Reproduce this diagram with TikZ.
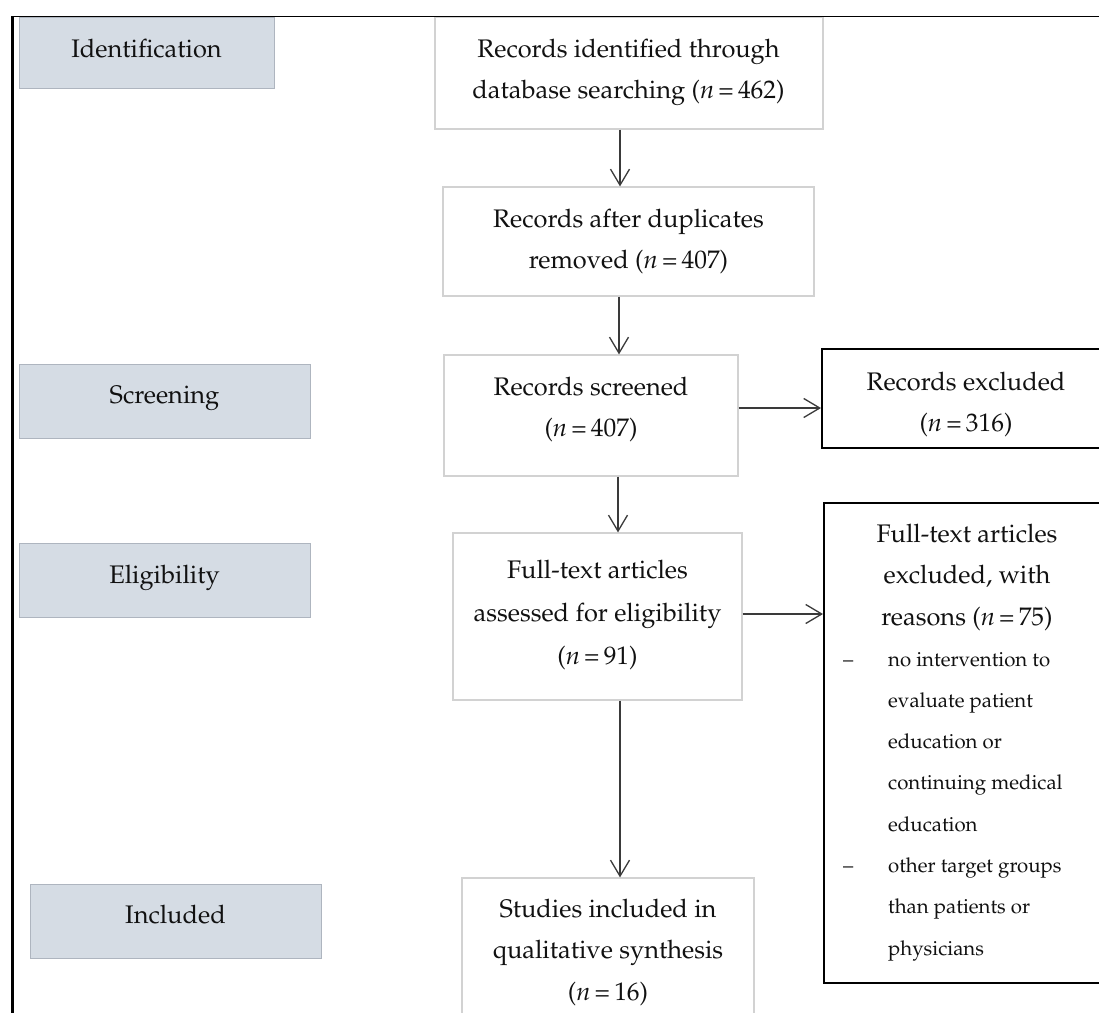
\documentclass[tikz,border=0pt]{standalone}
\usepackage[T1]{fontenc}
\usepackage{mathpazo}
\usetikzlibrary{arrows.meta}
\definecolor{phasefill}{HTML}{D5DCE4}
\definecolor{phaseedge}{HTML}{AEB5BF}
\definecolor{boxedge}{HTML}{D2D2D2}
\definecolor{arrowc}{HTML}{3A3A3A}
\definecolor{txt}{HTML}{111111}
\newcommand\mainfs{\fontsize{25.4}{41.6}\selectfont}
\newcommand\smallfs{\fontsize{20.4}{41.3}\selectfont}
\newcommand\nn[1]{(\textit{n}\,=\,#1)}
\setlength{\tabcolsep}{0pt}
\begin{document}
\begin{tikzpicture}[x=1pt,y=-1pt,
  phase/.style={draw=phaseedge, fill=phasefill, line width=1pt, inner sep=0pt},
  flowbox/.style={draw=boxedge, line width=1.2pt, fill=white, inner sep=0pt},
  exbox/.style={draw=black, line width=2pt, fill=white, inner sep=0pt},
  lbl/.style={anchor=base, inner sep=0pt, text=txt},
  arr/.style={draw=arrowc, line width=1.3pt, -{Straight Barb[length=16pt,width=19pt]}}]
\useasboundingbox (0,0) rectangle (1099,1012);
\clip (0,0) rectangle (1099,1012);
\fill[white] (0,0) rectangle (1099,1012);

% phase boxes
\node[phase, minimum width=255, minimum height=71] (pid)  at (146.5,52.5) {};
\node[phase, minimum width=291, minimum height=74] (pscr) at (164.5,401) {};
\node[phase, minimum width=291, minimum height=74] (pel)  at (164.5,580) {};
\node[phase, minimum width=291, minimum height=74] (pinc) at (175.5,921) {};

% flow boxes
\node[flowbox, minimum width=388, minimum height=112] (b1) at (629,73) {};
\node[flowbox, minimum width=371, minimum height=109] (b2) at (628.5,241.5) {};
\node[flowbox, minimum width=294, minimum height=121] (b3) at (591,415.5) {};
\node[flowbox, minimum width=289, minimum height=167] (b4) at (597.5,616.5) {};
\node[flowbox, minimum width=292, minimum height=162] (b5) at (608,959) {};

% exclusion boxes
\node[exbox, minimum width=290, minimum height=99]  (rex)  at (967,398.5) {};
\node[exbox, minimum width=286, minimum height=480] (ftex) at (967,743) {};

% phase labels
\node[lbl] (tid)  at (146.5,57)  {\mainfs Identification};
\node[lbl] (tscr) at (164.5,403) {\mainfs Screening};
\node[lbl] (tel)  at (164.5,583) {\mainfs Eligibility};
\node[lbl] (tinc) at (175.5,923) {\mainfs Included};

% flow texts
\node[lbl] (t1) at (628.5,57) {\mainfs\begin{tabular}[t]{c}Records identified through\\database searching \nn{462}\end{tabular}};
\node[lbl] (t2) at (628.5,227) {\mainfs\begin{tabular}[t]{c}Records after duplicates\\removed \nn{407}\end{tabular}};
\node[lbl] (t3) at (591,395) {\mainfs\begin{tabular}[t]{c}Records screened\\\nn{407}\end{tabular}};
\node[lbl] (t4) at (597.5,578) {\mainfs\fontsize{25.4}{43}\selectfont\begin{tabular}[t]{c}Full-text articles\\assessed for eligibility\\\nn{91}\end{tabular}};
\node[lbl] (t5) at (608,917) {\mainfs\begin{tabular}[t]{c}Studies included in\\qualitative synthesis\\\nn{16}\end{tabular}};
\node[lbl] (trex) at (966,390) {\mainfs\begin{tabular}[t]{c}Records excluded\\\nn{316}\end{tabular}};
\node[lbl] (tftex) at (967,542) {\mainfs\begin{tabular}[t]{c}Full-text articles\\excluded, with\\reasons \nn{75}\end{tabular}};
\node[lbl, anchor=base west] (tbul) at (843,666) {\smallfs\begin{tabular}[t]{@{}p{45pt}@{}l@{}}
--& no intervention to\\
 & evaluate patient\\
 & education or\\
 & continuing medical\\
 & education\\
--& other target groups\\
 & than patients or\\
 & physicians
\end{tabular}};

% connectors
\coordinate (cA) at (620,0);
\coordinate (cB) at (619,0);
\coordinate (cC) at (618,0);
\coordinate (cD) at (620,0);
\coordinate (cE) at (0,408);
\coordinate (cF) at (0,614);
\draw[arr] (b1.south -| cA) -- (b2.north -| cA);
\draw[arr] (b2.south -| cB) -- (b3.north -| cB);
\draw[arr] (b3.south -| cC) -- (b4.north -| cC);
\draw[arr] (b4.south -| cD) -- (b5.north -| cD);
\draw[arr] (b3.east |- cE) -- (rex.west |- cE);
\draw[arr] (b4.east |- cF) -- (ftex.west |- cF);

% outer frame
\draw[line width=2.2pt] (12.5,1020) -- (12.5,16.5);
\draw[line width=1.6pt] (11.4,16.5) -- (1105,16.5);
\end{tikzpicture}
\end{document}
